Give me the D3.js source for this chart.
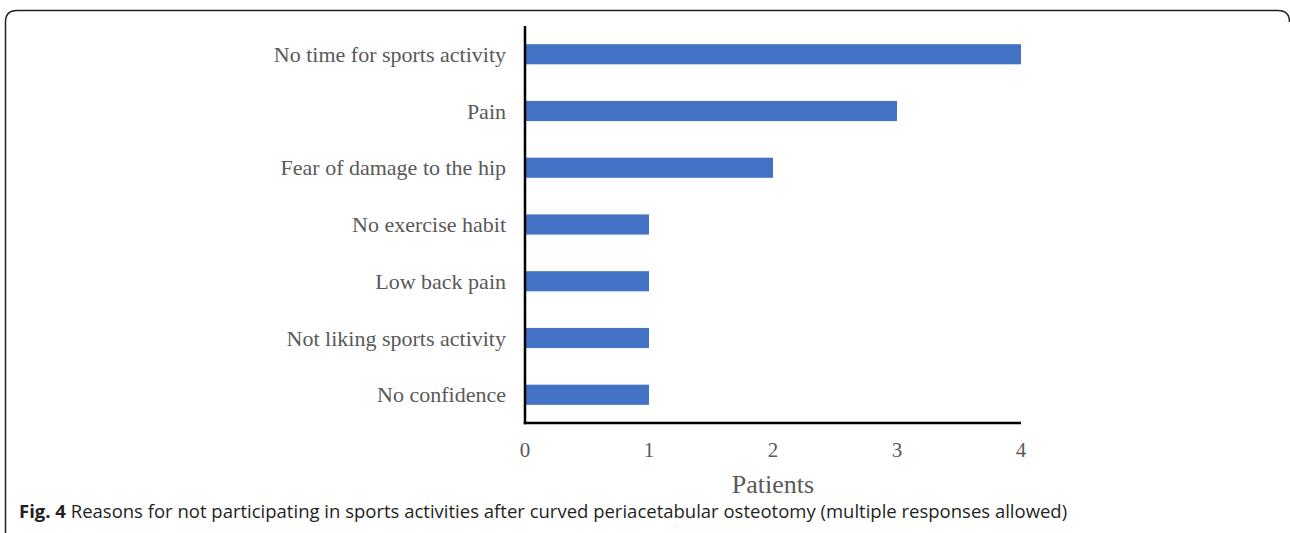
<!DOCTYPE html>
<html>
<head>
<meta charset="utf-8">
<script src="https://cdn.jsdelivr.net/npm/d3@7"></script>
<style>
  html, body { margin: 0; padding: 0; background: #fff; }
</style>
</head>
<body>
<script>
var reasons = [
  'No time for sports activity',
  'Pain',
  'Fear of damage to the hip',
  'No exercise habit',
  'Low back pain',
  'Not liking sports activity',
  'No confidence'
];
var patients = [4, 3, 2, 1, 1, 1, 1];
var xTicks = [0, 1, 2, 3, 4];

var W = 1290, H = 533;
var mLeft = 525, mRight = 1021, mTop = 26, mBottom = 423;

var svg = d3.select('body').append('svg')
  .attr('width', W)
  .attr('height', H);

// figure frame (rounded, cut at right/bottom edges)
svg.append('path')
  .attr('d', 'M5.5,' + (H + 2) + ' L5.5,22 Q5.5,10.5 17,10.5 L1278,10.5 Q1289.5,10.5 1289.5,22')
  .attr('fill', 'none')
  .attr('stroke', '#222')
  .attr('stroke-width', 1.5);

var x = d3.scaleLinear().domain([0, 4]).range([mLeft, mRight]);
var y = d3.scaleBand().domain(reasons).range([mTop, mBottom]).paddingInner(0.645).paddingOuter(0.32);

var data = reasons.map(function (r, i) { return { reason: r, value: patients[i] }; });

svg.selectAll('rect.bar')
  .data(data)
  .enter()
  .append('rect')
    .attr('class', 'bar')
    .attr('x', x(0))
    .attr('y', function (d) { return y(d.reason); })
    .attr('width', function (d) { return x(d.value) - x(0); })
    .attr('height', y.bandwidth())
    .attr('fill', '#4472C4');

// axes lines
svg.append('line')
  .attr('x1', mLeft).attr('x2', mLeft)
  .attr('y1', mTop).attr('y2', mBottom + 1.25)
  .attr('stroke', '#000').attr('stroke-width', 2.5);
svg.append('line')
  .attr('x1', mLeft - 1.25).attr('x2', mRight)
  .attr('y1', mBottom).attr('y2', mBottom)
  .attr('stroke', '#000').attr('stroke-width', 2.5);

var serif = '"Liberation Serif", "Times New Roman", serif';

// category labels
svg.selectAll('text.cat')
  .data(data)
  .enter()
  .append('text')
    .attr('class', 'cat')
    .attr('x', 506)
    .attr('y', function (d) { return y(d.reason) + y.bandwidth() / 2; })
    .attr('dy', '0.35em')
    .attr('text-anchor', 'end')
    .attr('font-family', serif)
    .attr('font-size', 22)
    .attr('fill', '#595959')
    .text(function (d) { return d.reason; });

// x tick labels
svg.selectAll('text.tick')
  .data(xTicks)
  .enter()
  .append('text')
    .attr('class', 'tick')
    .attr('x', function (d) { return x(d); })
    .attr('y', 450)
    .attr('dy', '0.35em')
    .attr('text-anchor', 'middle')
    .attr('font-family', serif)
    .attr('font-size', 21)
    .attr('fill', '#595959')
    .text(function (d) { return d; });

svg.append('text')
  .attr('x', x(2))
  .attr('y', 484)
  .attr('dy', '0.35em')
  .attr('text-anchor', 'middle')
  .attr('font-family', serif)
  .attr('font-size', 26)
  .attr('fill', '#595959')
  .text('Patients');

// caption
var cap = svg.append('text')
  .attr('x', 19)
  .attr('y', 518)
  .attr('font-family', '"Open Sans", sans-serif')
  .attr('font-size', 18.5)
  .attr('fill', '#231f20');
cap.append('tspan').attr('font-weight', 'bold').text('Fig. 4');
cap.append('tspan').text(' Reasons for not participating in sports activities after curved periacetabular osteotomy (multiple responses allowed)');
</script>
</body>
</html>
